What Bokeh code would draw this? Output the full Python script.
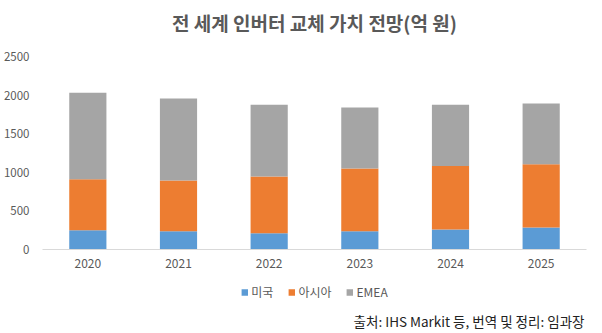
from bokeh.plotting import figure
from bokeh.models import Legend, LegendItem, Label, ColumnDataSource
from bokeh.layouts import column
from bokeh.embed import file_html
from bokeh.resources import INLINE

years = ["2020", "2021", "2022", "2023", "2024", "2025"]
usa = [250, 235, 210, 235, 260, 285]
asia = [660, 660, 735, 815, 820, 820]
emea = [1120, 1060, 930, 790, 795, 785]
series = ["미국", "아시아", "EMEA"]
colors = ["#5B9BD5", "#ED7D31", "#A5A5A5"]
yticks = [0, 500, 1000, 1500, 2000, 2500]
title_text = "전 세계 인버터 교체 가치 전망(억 원)"
source_text = "출처: IHS Markit 등, 번역 및 정리: 임과장"

FONT = "Noto Sans CJK KR"
GRAY = "#595959"
NAN = float("nan")


def strip(height):
    f = figure(width=602, height=height, x_range=(0, 1), y_range=(0, 1),
               output_backend="svg", toolbar_location=None,
               x_axis_location=None, y_axis_location=None, min_border=0)
    f.xgrid.grid_line_color = None
    f.ygrid.grid_line_color = None
    f.outline_line_color = None
    return f


# top strip: title
p0 = strip(40)
p0.add_layout(Label(x=0.5, y=0, y_offset=18, text=title_text,
                    text_align="center", text_baseline="middle",
                    text_font=FONT, text_font_size="19px", text_font_style="bold",
                    text_color=GRAY))

# main chart
src = ColumnDataSource(dict(year=years, usa=usa, asia=asia, emea=emea))

p = figure(width=602, height=240, x_range=years, y_range=(0, 2500),
           output_backend="svg", toolbar_location=None,
           min_border_left=42, min_border_right=16, min_border_top=16,
           min_border_bottom=31)

rs = p.vbar_stack(["usa", "asia", "emea"], x="year", width=0.41, color=colors,
                  source=src, line_width=0)

p.xgrid.grid_line_color = None
p.ygrid.grid_line_color = None
p.outline_line_color = None

p.yaxis.ticker = yticks
p.yaxis.axis_line_color = None
p.yaxis.major_tick_line_color = None
p.yaxis.minor_tick_line_color = None
p.yaxis.major_tick_out = 0
p.yaxis.major_tick_in = 0
p.yaxis.minor_tick_out = 0
p.yaxis.major_label_text_font = FONT
p.yaxis.major_label_text_font_size = "11.5px"
p.yaxis.major_label_text_color = GRAY
p.yaxis.major_label_standoff = 13

p.xaxis.axis_line_color = "#D9D9D9"
p.xaxis.axis_line_width = 1
p.xaxis.major_tick_line_color = None
p.xaxis.minor_tick_line_color = None
p.xaxis.major_tick_out = 0
p.xaxis.major_tick_in = 0
p.xaxis.major_label_text_font = FONT
p.xaxis.major_label_text_font_size = "12px"
p.xaxis.major_label_text_color = GRAY
p.xaxis.major_label_standoff = 9

# bottom strip: legend and source note
p2 = strip(53)
dummies = [p2.quad(left=[NAN], right=[NAN], top=[NAN], bottom=[NAN],
                   fill_color=c, line_color=None)
           for c in colors]
legend = Legend(items=[LegendItem(label=s, renderers=[r]) for s, r in zip(series, dummies)],
                orientation="horizontal", location="top", margin=3, padding=0,
                label_text_font=FONT, label_text_font_size="12px",
                label_text_color=GRAY, glyph_width=8, glyph_height=8, spacing=14,
                label_standoff=3, label_height=14,
                border_line_color=None, background_fill_alpha=0)
p2.add_layout(legend)

p2.add_layout(Label(x=1, y=0, x_offset=-2, y_offset=13, text=source_text,
                    text_align="right", text_baseline="middle",
                    text_font=FONT, text_font_size="13.5px", text_color="#222222"))

layout = column(p0, p, p2, spacing=0)
open("out.html", "w").write(file_html(layout, INLINE))
